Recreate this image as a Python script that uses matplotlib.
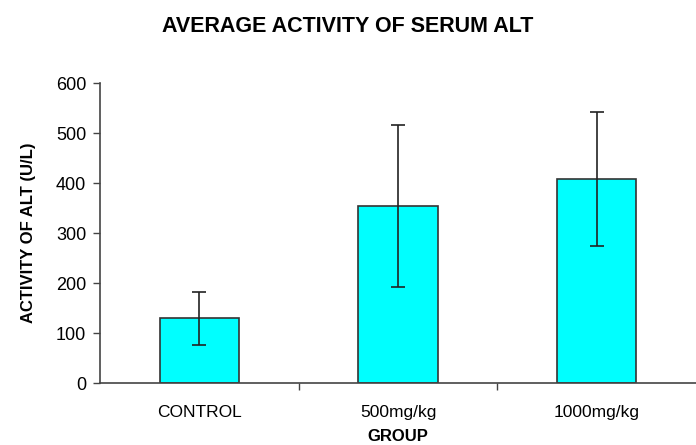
import numpy as np
import matplotlib.pyplot as plt

plt.rcParams['font.family'] = ['Liberation Sans', 'DejaVu Sans']

groups = ["CONTROL", "500mg/kg", "1000mg/kg"]
alt_mean = [130, 355, 408]
alt_err = [53, 162, 134]

fig = plt.figure(figsize=(6.96, 4.45), dpi=100)
ax = fig.add_axes([100 / 696, 1 - 383 / 445, 596 / 696, 300 / 445])

x = np.arange(len(groups))
ax.bar(x, alt_mean, width=0.4, color="#00FFFF", edgecolor="#333333", linewidth=1.2,
       yerr=alt_err, error_kw=dict(ecolor="#222222", elinewidth=1.2, capsize=5, capthick=1.2))

ax.set_xlim(-0.5, 2.5)
ax.set_ylim(0, 600)
ax.set_yticks(range(0, 601, 100))
ax.set_xticks(x)
ax.set_xticklabels(groups, fontsize=12.5)
ax.set_xticks([0.5, 1.5], minor=True)
ax.tick_params(axis="x", which="major", length=0, pad=16)
ax.tick_params(axis="x", which="minor", length=5, width=1, color="#444444")
ax.tick_params(axis="y", length=5, width=1, labelsize=13, color="#444444", pad=5)

for s in ["top", "right"]:
    ax.spines[s].set_visible(False)
for s in ["left", "bottom"]:
    ax.spines[s].set_color("#444444")
    ax.spines[s].set_linewidth(1.2)

ax.set_xlabel("GROUP", fontsize=12, fontweight="bold", labelpad=6)
ax.set_ylabel("ACTIVITY OF ALT (U/L)", fontsize=12, fontweight="bold", labelpad=14)
fig.text(0.5, 1 - 27 / 445, "AVERAGE ACTIVITY OF SERUM ALT", ha="center", va="center",
         fontsize=15.5, fontweight="bold")

fig.savefig("out.png", dpi=100)
